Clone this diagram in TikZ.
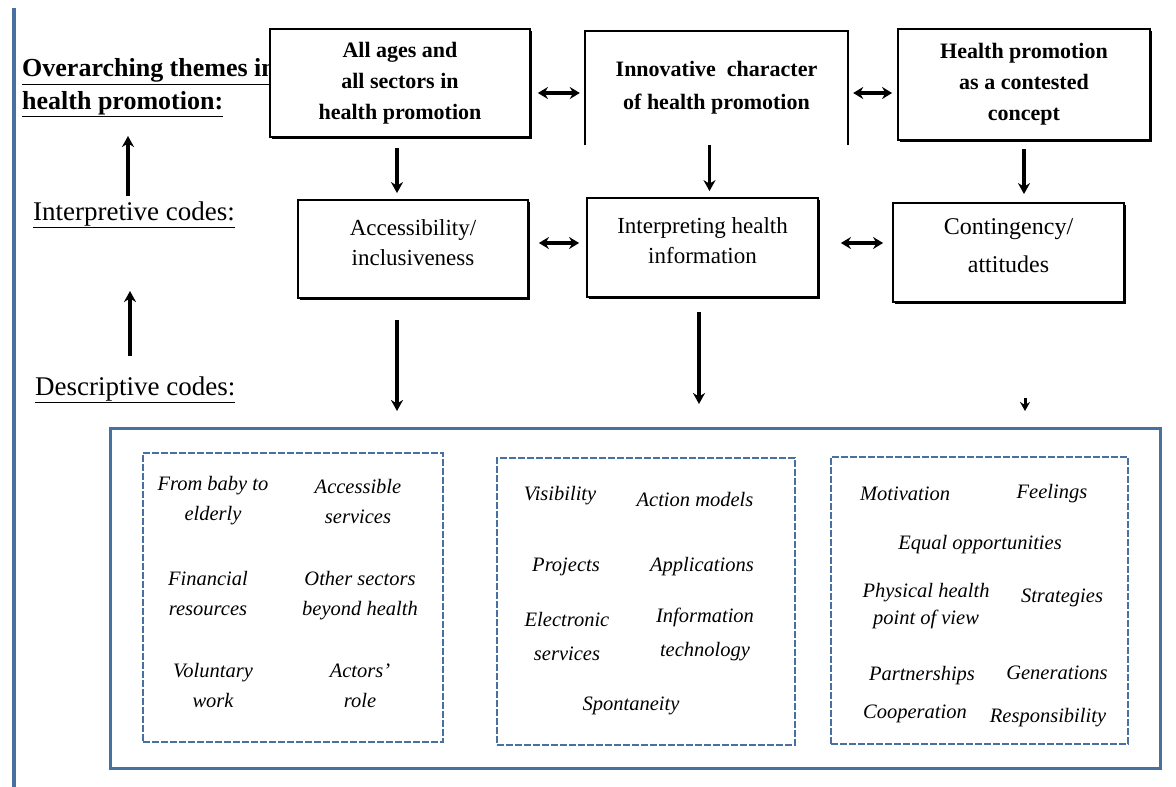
\documentclass[tikz,border=0pt]{standalone}
\usepackage{fontspec}
\setmainfont{Liberation Serif}
\usetikzlibrary{arrows.meta,shadows,calc}
\definecolor{bl}{RGB}{72,112,160}
\begin{document}
\begin{tikzpicture}[x=1pt,y=-1pt,
  boxshadow/.style={drop shadow={shadow xshift=2pt,shadow yshift=-2pt,opacity=1,fill=black}},
  topbox/.style={draw,line width=1.8pt,fill=white,align=center,inner sep=0pt,
    font=\bfseries\fontsize{22}{31}\selectfont},
  midbox/.style={draw,line width=1.8pt,fill=white,inner sep=0pt,boxshadow},
  midtext/.style={align=center,inner sep=0pt,font=\fontsize{23}{30}\selectfont},
  lab/.style={anchor=west,align=left,inner sep=0pt},
  arr/.style={line width=3.5pt,-{Stealth[length=11pt,width=12pt]}},
  darr/.style={line width=3.5pt,{Stealth[length=10pt,width=12pt]}-{Stealth[length=10pt,width=12pt]}},
  outer/.style={draw=bl,line width=3pt},
  dbox/.style={draw=bl,line width=2.5pt,dash pattern=on 7pt off 2pt},
  it/.style={align=center,inner sep=0pt,font=\itshape\fontsize{20.5}{30}\selectfont}
]
\useasboundingbox (0,0) rectangle (1176,787);
% left blue rule
\coordinate (rt) at (14,8);
\coordinate (rb) at (14,787);
\draw[draw=bl,line width=3.5pt] (rt) -- (rb);

% left labels
\node[lab,font=\bfseries\fontsize{26}{33}\selectfont] (ov) at (22,88)
  {\underline{Overarching themes in}\\\underline{health promotion:}};
\node[lab,font=\fontsize{27}{30}\selectfont] (ic) at (33,215) {\underline{Interpretive codes:}};
\node[lab,font=\fontsize{27}{30}\selectfont] (dc) at (35,390) {\underline{Descriptive codes:}};
\coordinate (u1s) at (128,196);
\coordinate (u1e) at (128,136);
\coordinate (u2s) at (130,356);
\coordinate (u2e) at (130,291);
\draw[arr] (u1s) -- (u1e);
\draw[arr] (u2s) -- (u2e);

% top boxes
\node[topbox,boxshadow,minimum width=260pt,minimum height=108pt] (b1) at (400,83)
  {All ages and\\all sectors in\\health promotion};
\node[align=center,inner sep=0pt,minimum width=263pt,minimum height=114pt,
  font=\bfseries\fontsize{22}{33}\selectfont] (b2) at (716.5,88)
  {Innovative\ \ character\\of health promotion};
\draw[line width=1.8pt] (b2.south west) -- (b2.north west) -- (b2.north east) -- (b2.south east);
\node[topbox,boxshadow,minimum width=252pt,minimum height=111pt] (b3) at (1024,84.5)
  {Health promotion\\as a contested\\concept};

\draw[darr] (b1.east |- 0,93) ++(7,0) -- ($(b2.west |- 0,93)+(-5,0)$);
\draw[darr] (b2.east |- 0,93) ++(5,0) -- ($(b3.west |- 0,93)+(-5,0)$);

% middle boxes
\node[midbox,minimum width=230pt,minimum height=98pt] (mA) at (413,249) {};
\node[midtext] (tA) at (413,243) {Accessibility/\\inclusiveness};
\node[midbox,minimum width=231pt,minimum height=99pt] (mB) at (702.5,247.5) {};
\node[midtext] (tB) at (702.5,241) {Interpreting health\\information};
\node[midbox,minimum width=231pt,minimum height=99pt] (mC) at (1008.5,252.5) {};
\node[midtext,font=\fontsize{24}{38}\selectfont] (tC) at (1008.5,246) {Contingency/\\attitudes};

\draw[darr] (mA.east |- 0,243) ++(10,0) -- ($(mB.west |- 0,243)+(-7,0)$);
\draw[darr] (mB.east |- 0,243) ++(22,0) -- ($(mC.west |- 0,243)+(-9,0)$);

% down arrows top -> middle
\draw[arr,shorten >=6pt,shorten <=10pt] ([xshift=-3pt]b1.south) -- ([xshift=-3pt]b1.south |- mA.north);
\draw[arr,shorten >=6pt] ([xshift=-7pt]b2.south) -- ([xshift=-7pt]b2.south |- mB.north);
\draw[arr,shorten >=8pt,shorten <=8pt] (b3.south) -- (b3.south |- mC.north);

% down arrows middle -> descriptive
\coordinate (dAs) at (397,320);
\coordinate (dAe) at (397,411);
\coordinate (dBs) at (699,312);
\coordinate (dBe) at (699,404);
\coordinate (dCs) at (1025,398);
\coordinate (dCe) at (1025,411);
\draw[arr] (dAs) -- (dAe);
\draw[arr] (dBs) -- (dBe);
\draw[line width=3pt,-{Stealth[length=9pt,width=10pt]}] (dCs) -- (dCe);

% bottom box
\node[outer,inner sep=0pt,minimum width=1050pt,minimum height=340pt] (bot) at (635,598) {};
\node[dbox,inner sep=0pt,minimum width=300pt,minimum height=289pt] (d1) at (293,597.5) {};
\node[dbox,inner sep=0pt,minimum width=298pt,minimum height=287pt] (d2) at (646,601.5) {};
\node[dbox,inner sep=0pt,minimum width=297pt,minimum height=287pt] (d3) at (979.5,600.5) {};

% box 1 texts
\node[it] (a1) at (213,501) {From baby to\\elderly};
\node[it] (a2) at (358,501) {Accessible\\services};
\node[it] (a3) at (208,594) {Financial\\resources};
\node[it] (a4) at (360,596) {Other sectors\\beyond health};
\node[it] (a5) at (213,685) {Voluntary\\work};
\node[it] (a6) at (360,686) {Actors'\\role};

% box 2 texts
\node[it] (e1) at (560,496) {Visibility};
\node[it] (e2) at (695,499) {Action models};
\node[it] (e3) at (566,567) {Projects};
\node[it] (e4) at (702,567) {Applications};
\node[it,font=\itshape\fontsize{20.5}{34}\selectfont] (e5) at (567,636) {Electronic\\services};
\node[it,font=\itshape\fontsize{20.5}{34}\selectfont] (e6) at (705,634) {Information\\technology};
\node[it] (e7) at (631,706) {Spontaneity};

% box 3 texts
\node[it] (f1) at (905,494) {Motivation};
\node[it] (f2) at (1052,494) {Feelings};
\node[it] (f3) at (980,545) {Equal opportunities};
\node[it,font=\itshape\fontsize{20.5}{27}\selectfont] (f4) at (926,606) {Physical health\\point of view};
\node[it] (f5) at (1062,598) {Strategies};
\node[it] (f6) at (922,676) {Partnerships};
\node[it] (f7) at (1057,673) {Generations};
\node[it] (f8) at (915,714) {Cooperation};
\node[it] (f9) at (1048,718) {Responsibility};
\end{tikzpicture}
\end{document}
